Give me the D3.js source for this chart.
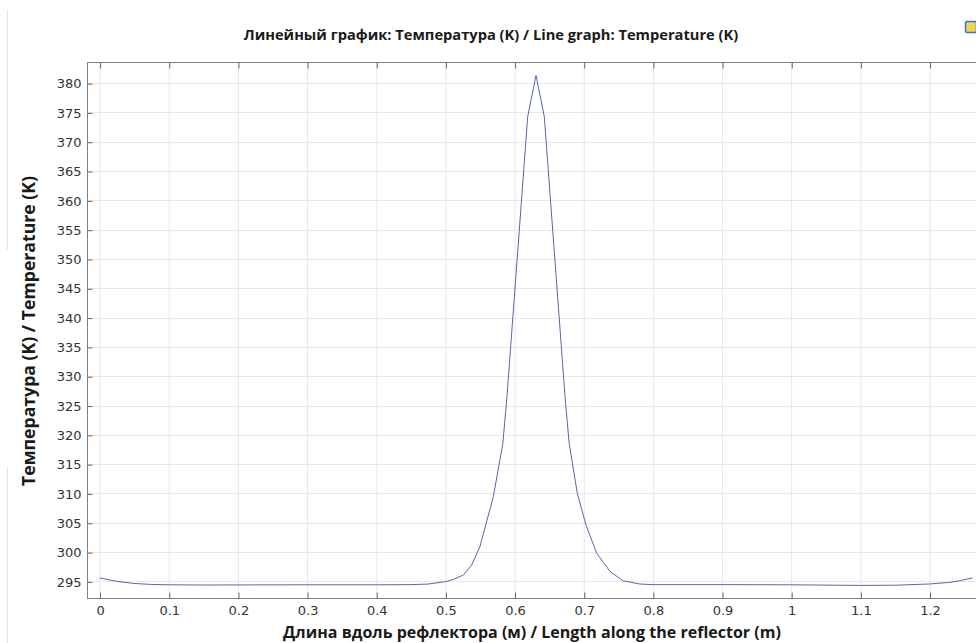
<!DOCTYPE html>
<html>
<head>
<meta charset="utf-8">
<script src="https://cdn.jsdelivr.net/npm/d3@7"></script>
<style>
	body { margin:0; background:#fff; overflow:hidden; }
	svg { display:block; }
	.grid line { stroke:#e8e8e8; stroke-width:1; }
	.axis path { display:none; }
	.axis line { stroke:#666; }
	.axis text { font-family:"DejaVu Sans", sans-serif; font-size:13px; fill:#333; }
	.lbl { font-family:"Open Sans", Inter, sans-serif; font-weight:700; fill:#1a1a1a; }
</style>
</head>
<body>
<script>
window.onload = function () {
	var width = 976, height = 643;

	// length along reflector (m) and temperature (K)
	var lengthM = [0, 0.025, 0.05, 0.075, 0.1, 0.15, 0.2, 0.3, 0.4, 0.45, 0.475, 0.5, 0.513, 0.526, 0.538, 0.55,
		0.5693, 0.583, 0.5887, 0.619, 0.631, 0.643, 0.6733, 0.679, 0.6908, 0.7033, 0.7188, 0.738, 0.757, 0.781,
		0.8, 0.9, 1.0, 1.1, 1.15, 1.2, 1.229, 1.245, 1.262];
	var tempK = [295.6, 295.0, 294.65, 294.48, 294.42, 294.38, 294.4, 294.42, 294.42, 294.45, 294.55, 294.95, 295.4, 296.1, 297.8, 300.95,
		309.45, 318.5, 326, 374.3, 381.3, 374.3, 326, 318.5, 310, 304.6, 299.8, 296.7, 295.1, 294.56,
		294.45, 294.45, 294.42, 294.32, 294.35, 294.56, 294.83, 295.15, 295.6];

	var xTicks = [0, 0.1, 0.2, 0.3, 0.4, 0.5, 0.6, 0.7, 0.8, 0.9, 1, 1.1, 1.2];
	var yTicks = d3.range(295, 381, 5);
	var title = "Линейный график: Температура (K) / Line graph: Temperature (K)";
	var xTitle = "Длина вдоль рефлектора (м) / Length along the reflector (m)";
	var yTitle = "Температура (K) / Temperature (K)";

	var L = 87, T = 62, R = 985, B = 598;
	var x = d3.scaleLinear().domain([-0.0182, 1.2802]).range([L, R]);
	var y = d3.scaleLinear().domain([292.17, 383.6]).range([B, T]);

	var svg = d3.select("body").append("svg").attr("width", width).attr("height", height);

	// faint panel border on the left
	svg.append("line").attr("x1", 7.5).attr("x2", 7.5).attr("y1", 10).attr("y2", 250).attr("stroke", "#e2e2e2");
	svg.append("line").attr("x1", 7.5).attr("x2", 7.5).attr("y1", 468).attr("y2", height).attr("stroke", "#e2e2e2");

	// grid
	svg.append("g").attr("class", "grid").selectAll("line").data(xTicks).enter().append("line")
		.attr("x1", function(d){ return x(d)+0.5; }).attr("x2", function(d){ return x(d)+0.5; })
		.attr("y1", T).attr("y2", B);
	svg.append("g").attr("class", "grid").selectAll("line").data(yTicks).enter().append("line")
		.attr("y1", function(d){ return Math.round(y(d))+0.5; }).attr("y2", function(d){ return Math.round(y(d))+0.5; })
		.attr("x1", L).attr("x2", R);

	// curve
	var pts = lengthM.map(function(d, i){ return [d, tempK[i]]; });
	svg.append("path").datum(pts)
		.attr("fill", "none").attr("stroke", "#5864ae").attr("stroke-width", 1)
		.attr("d", d3.line().x(function(d){ return x(d[0]); }).y(function(d){ return y(d[1]); }));

	// frame
	svg.append("rect").attr("x", L+0.5).attr("y", T+0.5).attr("width", R-L).attr("height", B-T)
		.attr("fill", "none").attr("stroke", "#808080");

	// axes, ticks pointing inside
	svg.append("g").attr("class", "axis").attr("transform", "translate(0.5,"+(B+0.5)+")")
		.call(d3.axisBottom(x).tickValues(xTicks).tickSize(-6).tickPadding(7).tickFormat(d3.format("")));
	svg.append("g").attr("class", "axis").attr("transform", "translate(0.5,"+(T+0.5)+")")
		.call(d3.axisTop(x).tickValues(xTicks).tickSize(-6).tickFormat(""));
	svg.append("g").attr("class", "axis").attr("transform", "translate("+(L+0.5)+",0.5)")
		.call(d3.axisLeft(y).tickValues(yTicks).tickSize(-5).tickPadding(6));

	// titles, sized to the widths measured on the reference
	function fit(sel, target, base){
		sel.style("font-size", base+"px");
		var len = sel.node().getComputedTextLength();
		sel.style("font-size", (base*target/len).toFixed(2)+"px");
	}
	fit(svg.append("text").attr("class", "lbl").attr("x", 491).attr("y", 40).attr("text-anchor", "middle").text(title), 495, 14);
	fit(svg.append("text").attr("class", "lbl").attr("x", 532).attr("y", 638).attr("text-anchor", "middle").text(xTitle), 498, 15);
	fit(svg.append("text").attr("class", "lbl").attr("transform", "translate(35,331) rotate(-90)").attr("text-anchor", "middle").text(yTitle), 310, 16);

	// little toolbar icon at the top right
	svg.append("rect").attr("x", 965.5).attr("y", 21.5).attr("width", 11).attr("height", 11).attr("rx", 1.5)
		.attr("fill", "#e9d65a").attr("stroke", "#3d6fc2").attr("stroke-width", 1.5);
};
</script>
</body>
</html>
